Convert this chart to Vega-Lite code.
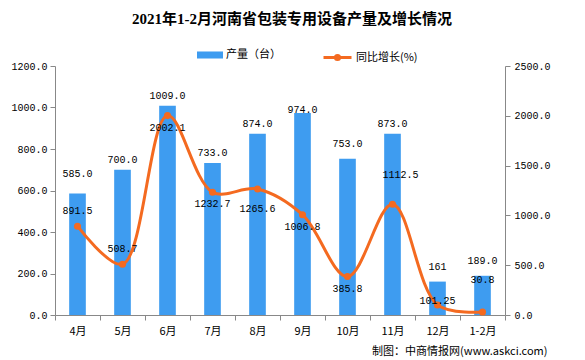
{
  "$schema": "https://vega.github.io/schema/vega-lite/v6.json",
  "width": 450,
  "height": 249,
  "autosize": {"type": "none"},
  "padding": {"left": 55, "top": 66, "right": 80, "bottom": 45},
  "background": "white",
  "config": {"view": {"stroke": null}, "axis": {"grid": false}},
  "title": {
    "text": "2021年1-2月河南省包装专用设备产量及增长情况",
    "font": "Liberation Serif, Noto Sans CJK SC",
    "fontSize": 15,
    "fontWeight": "bold",
    "color": "black",
    "anchor": "middle",
    "frame": "group",
    "offset": 15,
    "dx": 12
  },
  "data": {
    "values": [
      {"month": "4月", "output": 585, "outputLabel": "585.0", "growth": 891.5, "growthLabel": "891.5"},
      {"month": "5月", "output": 700, "outputLabel": "700.0", "growth": 508.7, "growthLabel": "508.7"},
      {"month": "6月", "output": 1009, "outputLabel": "1009.0", "growth": 2002.1, "growthLabel": "2002.1"},
      {"month": "7月", "output": 733, "outputLabel": "733.0", "growth": 1232.7, "growthLabel": "1232.7"},
      {"month": "8月", "output": 874, "outputLabel": "874.0", "growth": 1265.6, "growthLabel": "1265.6"},
      {"month": "9月", "output": 974, "outputLabel": "974.0", "growth": 1006.8, "growthLabel": "1006.8"},
      {"month": "10月", "output": 753, "outputLabel": "753.0", "growth": 385.8, "growthLabel": "385.8"},
      {"month": "11月", "output": 873, "outputLabel": "873.0", "growth": 1112.5, "growthLabel": "1112.5"},
      {"month": "12月", "output": 161, "outputLabel": "161", "growth": 101.25, "growthLabel": "101.25"},
      {"month": "1-2月", "output": 189, "outputLabel": "189.0", "growth": 30.8, "growthLabel": "30.8"}
    ]
  },
  "resolve": {"scale": {"y": "independent", "color": "independent", "stroke": "independent"}},
  "layer": [
    {
      "encoding": {
        "x": {
          "field": "month", "type": "ordinal", "sort": null,
          "scale": {"paddingInner": 0, "paddingOuter": 0},
          "axis": {
            "tickBand": "extent", "labelAngle": 0, "domainColor": "#888888", "tickColor": "#888888",
            "tickSize": 5, "labelPadding": 5, "labelFont": "Noto Sans CJK SC", "labelFontSize": 11,
            "labelColor": "black",
            "title": "制图：中商情报网(www.askci.com)",
            "titleFont": "Noto Sans CJK SC", "titleFontSize": 11, "titleFontWeight": "normal", "titleColor": "black",
            "titleAnchor": "end", "titleAlign": "right", "titleBaseline": "middle", "titleX": 492, "titleY": 36
          }
        },
        "y": {
          "field": "output", "type": "quantitative", "title": null,
          "scale": {"domain": [0, 1200], "nice": false},
          "axis": {
            "values": [0, 200, 400, 600, 800, 1000, 1200], "format": ".1f",
            "domainColor": "#888888", "tickColor": "#888888", "tickSize": 5, "labelPadding": 3,
            "labelFont": "Liberation Mono", "labelFontSize": 10, "labelColor": "black"
          }
        }
      },
      "layer": [
        {
          "mark": {"type": "bar", "width": {"band": 0.37}},
          "encoding": {
            "color": {
              "datum": "产量（台）",
              "scale": {"domain": ["产量（台）"], "range": ["#3E9CF0"]},
              "legend": {
                "orient": "none", "legendX": 142, "legendY": -24, "title": null,
                "symbolType": "M-1,-0.27H1V0.27H-1Z", "symbolSize": 676, "symbolStrokeWidth": 0,
                "labelFont": "Noto Sans CJK SC", "labelFontSize": 11, "labelColor": "black", "labelOffset": 3
              }
            }
          }
        },
        {
          "transform": [{"filter": {"field": "month", "oneOf": ["5月", "6月", "7月", "8月", "11月"]}}],
          "mark": {"type": "text", "dy": -10, "font": "Liberation Mono", "fontSize": 10, "color": "black"},
          "encoding": {"text": {"field": "outputLabel"}}
        },
        {
          "transform": [{"filter": {"field": "month", "oneOf": ["10月", "12月", "1-2月"]}}],
          "mark": {"type": "text", "dy": -15, "font": "Liberation Mono", "fontSize": 10, "color": "black"},
          "encoding": {"text": {"field": "outputLabel"}}
        },
        {
          "transform": [{"filter": {"field": "month", "equal": "4月"}}],
          "mark": {"type": "text", "dy": -20, "font": "Liberation Mono", "fontSize": 10, "color": "black"},
          "encoding": {"text": {"field": "outputLabel"}}
        },
        {
          "transform": [{"filter": {"field": "month", "equal": "9月"}}],
          "mark": {"type": "text", "dy": -3, "font": "Liberation Mono", "fontSize": 10, "color": "black"},
          "encoding": {"text": {"field": "outputLabel"}}
        }
      ]
    },
    {
      "encoding": {
        "x": {"field": "month", "type": "ordinal", "sort": null},
        "y": {
          "field": "growth", "type": "quantitative", "title": null,
          "scale": {"domain": [0, 2500], "nice": false},
          "axis": {
            "orient": "right", "values": [0, 500, 1000, 1500, 2000, 2500], "format": ".1f",
            "domainColor": "#888888", "tickColor": "#888888", "tickSize": 5, "labelPadding": 4,
            "labelFont": "Liberation Mono", "labelFontSize": 10, "labelColor": "black"
          }
        }
      },
      "layer": [
        {
          "mark": {"type": "line", "interpolate": "catmull-rom", "strokeWidth": 3},
          "encoding": {
            "stroke": {
              "datum": "同比增长(%)",
              "scale": {"domain": ["同比增长(%)"], "range": ["#F46A20"]},
              "legend": {
                "orient": "none", "legendX": 267, "legendY": -24, "title": null,
                "symbolType": "M-1,0H1M0.15,0A0.15,0.15,0,1,1,-0.15,0A0.15,0.15,0,1,1,0.15,0",
                "symbolSize": 784, "symbolStrokeWidth": 3, "symbolFillColor": "#F46A20", "symbolStrokeColor": "#F46A20",
                "labelFont": "Noto Sans CJK SC", "labelFontSize": 11, "labelColor": "black", "labelOffset": 3
              }
            }
          }
        },
        {
          "mark": {"type": "point", "filled": true, "size": 50, "color": "#F46A20", "opacity": 1}
        },
        {
          "transform": [{"filter": {"field": "month", "oneOf": ["4月", "5月"]}}],
          "mark": {"type": "text", "dy": -15, "font": "Liberation Mono", "fontSize": 10, "color": "black"},
          "encoding": {"text": {"field": "growthLabel"}}
        },
        {
          "transform": [{"filter": {"field": "month", "oneOf": ["6月", "7月", "9月", "10月"]}}],
          "mark": {"type": "text", "dy": 12, "font": "Liberation Mono", "fontSize": 10, "color": "black"},
          "encoding": {"text": {"field": "growthLabel"}}
        },
        {
          "transform": [{"filter": {"field": "month", "equal": "8月"}}],
          "mark": {"type": "text", "dy": 20, "font": "Liberation Mono", "fontSize": 10, "color": "black"},
          "encoding": {"text": {"field": "growthLabel"}}
        },
        {
          "transform": [{"filter": {"field": "month", "equal": "11月"}}],
          "mark": {"type": "text", "dy": -29, "dx": 8, "font": "Liberation Mono", "fontSize": 10, "color": "black"},
          "encoding": {"text": {"field": "growthLabel"}}
        },
        {
          "transform": [{"filter": {"field": "month", "equal": "12月"}}],
          "mark": {"type": "text", "dy": -4, "font": "Liberation Mono", "fontSize": 10, "color": "black"},
          "encoding": {"text": {"field": "growthLabel"}}
        },
        {
          "transform": [{"filter": {"field": "month", "equal": "1-2月"}}],
          "mark": {"type": "text", "dy": -32, "font": "Liberation Mono", "fontSize": 10, "color": "black"},
          "encoding": {"text": {"field": "growthLabel"}}
        }
      ]
    }
  ]
}
